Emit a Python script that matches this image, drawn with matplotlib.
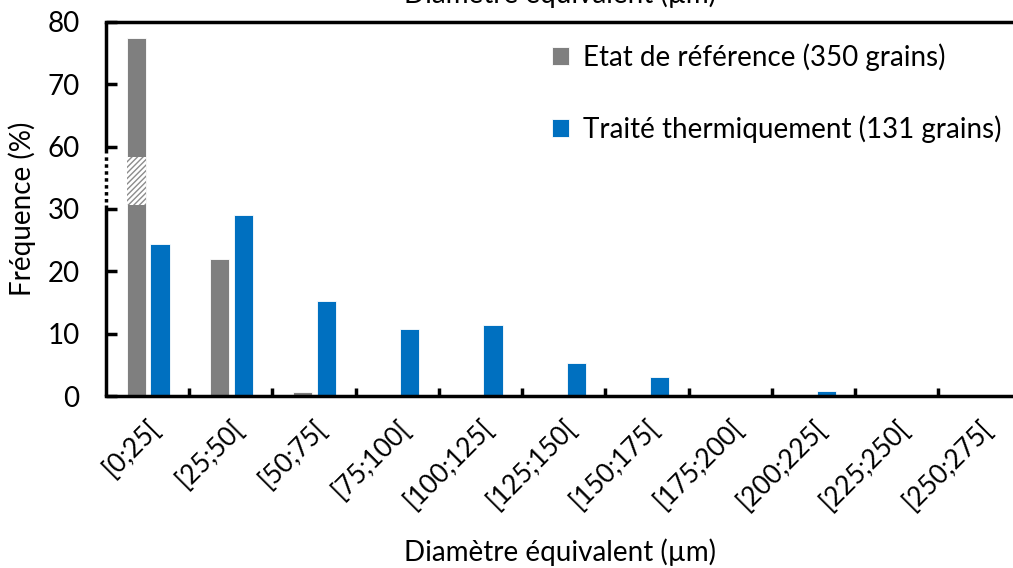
import matplotlib
matplotlib.use("Agg")
import matplotlib.pyplot as plt
import numpy as np

plt.rcParams['font.family'] = ['Lato', 'DejaVu Sans']
plt.rcParams['hatch.linewidth'] = 1.0
plt.rcParams['hatch.color'] = '#8c8c8c'

classes = ['[0;25[', '[25;50[', '[50;75[', '[75;100[', '[100;125[', '[125;150[',
           '[150;175[', '[175;200[', '[200;225[', '[225;250[', '[250;275[']
# frequencies in % (grain counts / total)
ref = [77.4, 22.0, 0.57, 0, 0, 0, 0, 0, 0, 0, 0]
trait = [24.43, 29.01, 15.27, 10.69, 11.45, 5.34, 3.05, 0, 0.76, 0, 0]
ref_label = 'Etat de référence (350 grains)'
trait_label = 'Traité thermiquement (131 grains)'
ytick_vals = [0, 10, 20, 30, 60, 70, 80]

# broken axis: 30..60 is squeezed out, values above 60 shift down by 20
brk_lo, brk_hi = 30, 60
def squash(v):
    return v - (brk_hi - brk_lo - 10) if v >= brk_hi else v

gray = '#7f7f7f'
blue = '#0070c0'
fs = 20

fig = plt.figure(figsize=(10.13, 5.68), dpi=100)
ax = fig.add_axes([0.1046, 0.3028, 0.904, 0.6585])

x = np.arange(len(classes))
w = 0.23
ref_d = [squash(v) for v in ref]
trait_d = [squash(v) for v in trait]
ax.bar(x - 0.135, ref_d, w, color=gray, edgecolor='white', linewidth=0.6, label=ref_label, zorder=2)
ax.bar(x + 0.15, trait_d, w, color=blue, edgecolor='white', linewidth=0.6, label=trait_label, zorder=2)

# hatched section marking the cut on the tall bar
ax.bar(x[0] - 0.135, 7.8, w, bottom=30.6, color='white', hatch='//////',
       edgecolor='#8c8c8c', linewidth=0, zorder=3)

ax.set_xlim(-0.5, len(classes) - 0.5)
ax.set_ylim(0, 60)
ax.set_yticks([squash(v) for v in ytick_vals])
ax.set_yticklabels([str(v) for v in ytick_vals])
ax.tick_params(axis='y', direction='in', length=8, width=2.5, labelsize=fs, pad=19)

ax.set_xticks(x)
ax.set_xticklabels(classes, rotation=45, ha='right', rotation_mode='anchor', fontsize=19)
ax.tick_params(axis='x', length=0, pad=14)
ax.set_xticks(x[1:] - 0.5, minor=True)
ax.tick_params(axis='x', which='minor', direction='in', length=6, width=2.5)

ax.spines['right'].set_visible(False)
ax.spines['left'].set_visible(False)
ax.spines['bottom'].set_linewidth(2.5)
ax.spines['top'].set_linewidth(2.5)

# left spine drawn in pieces with a dotted gap at the break
tr = ax.get_yaxis_transform()
ax.plot([0, 0], [0, 30.6], color='black', lw=2.5, transform=tr, clip_on=False, solid_capstyle='butt')
ax.plot([0, 0], [31.2, 38.6], color='black', lw=2.5, ls=(0, (1, 1)), transform=tr, clip_on=False)
ax.plot([0, 0], [39.0, 60], color='black', lw=2.5, transform=tr, clip_on=False, solid_capstyle='butt')

ax.set_ylabel('Fréquence (%)', fontsize=fs, labelpad=8)
fig.text(0.553, 0.028, 'Diamètre équivalent (µm)', ha='center', va='center', fontsize=fs)
fig.text(0.553, 0.994, 'Diamètre équivalent (µm)', ha='center', va='baseline', fontsize=fs)

ax.legend(loc='upper right', bbox_to_anchor=(1.005, 1.01), frameon=False, fontsize=fs,
          handlelength=0.6, handleheight=0.6, handletextpad=0.5, labelspacing=1.6)

fig.savefig('out.png', dpi=100)
